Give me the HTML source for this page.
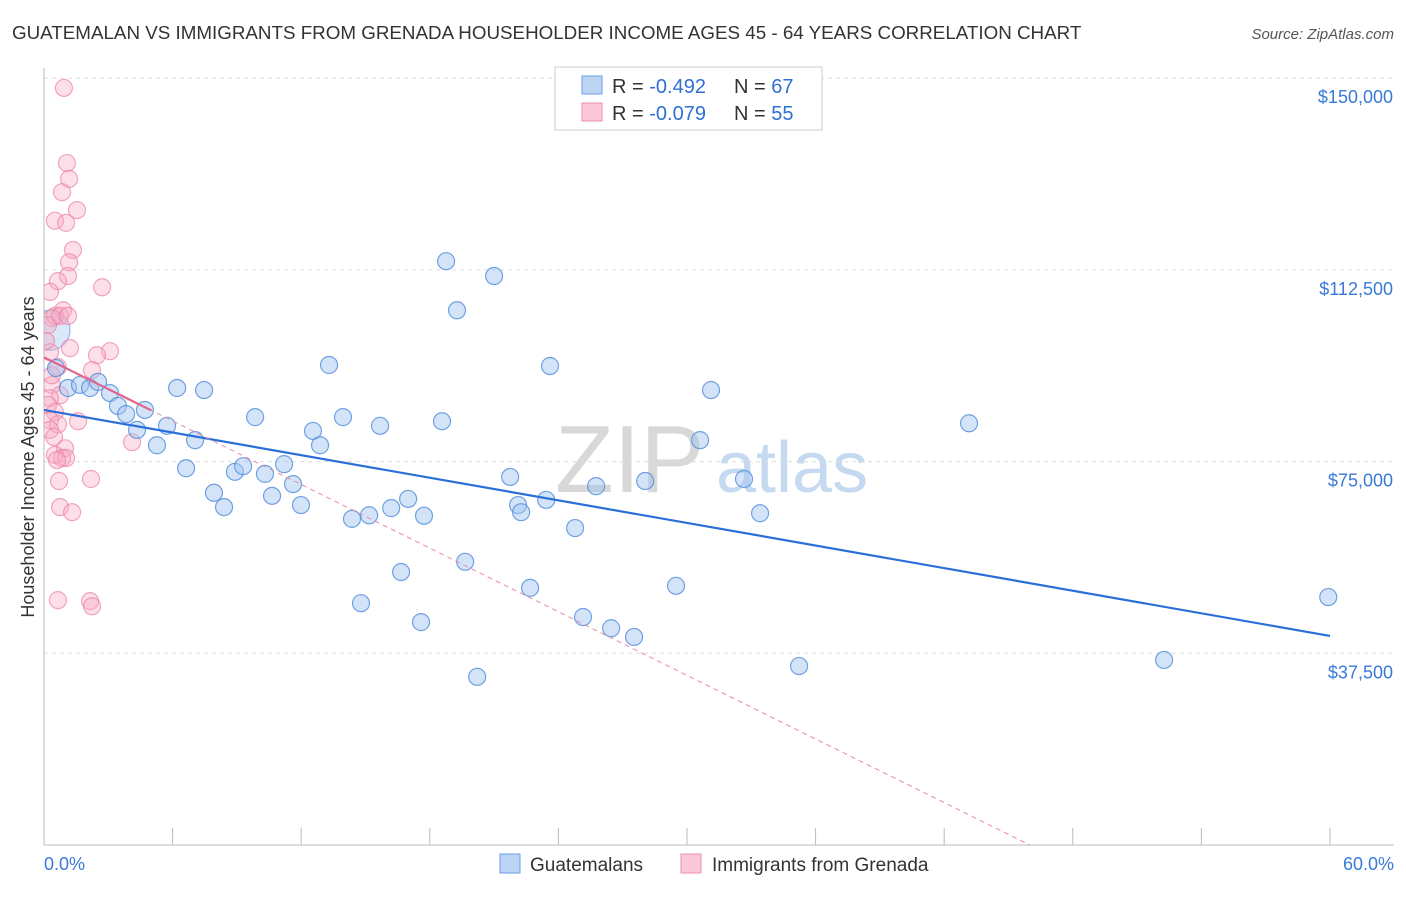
<!DOCTYPE html>
<html><head><meta charset="utf-8">
<style>
body{margin:0;background:#fff;font-family:"Liberation Sans",sans-serif;}
svg text{font-family:"Liberation Sans",sans-serif;}
</style></head>
<body>
<svg id="chart" width="1406" height="892" viewBox="0 0 1406 892">
<text x="12" y="39" font-size="18.8" fill="#333">GUATEMALAN VS IMMIGRANTS FROM GRENADA HOUSEHOLDER INCOME AGES 45 - 64 YEARS CORRELATION CHART</text>
<text x="1394" y="39" font-size="15" fill="#555" font-style="italic" text-anchor="end">Source: ZipAtlas.com</text>
<g>
<text x="555" y="492" font-size="96" fill="#d8d8d8" font-family="Liberation Serif">ZIP</text>
<text x="716" y="492" font-size="72" fill="#c5d9f0">atlas</text>
</g>
<g id="grid"></g>
<g id="axes"></g>
<g id="marks"></g>
<text transform="translate(34,457) rotate(-90)" font-size="18" fill="#333" text-anchor="middle">Householder Income Ages 45 - 64 years</text>
<g>
<rect x="555" y="67" width="267" height="63" fill="#fff" stroke="#ccc"/>
<rect x="582" y="76" width="20" height="18" fill="#bcd4f4" stroke="#6a9fe0"/>
<rect x="582" y="103" width="20" height="18" fill="#fac8d6" stroke="#ec8fac"/>
<text x="612" y="93" font-size="20" fill="#333">R = <tspan fill="#2f6fd6">-0.492</tspan></text>
<text x="734" y="93" font-size="20" fill="#333">N = <tspan fill="#2f6fd6">67</tspan></text>
<text x="612" y="120" font-size="20" fill="#333">R = <tspan fill="#2f6fd6">-0.079</tspan></text>
<text x="734" y="120" font-size="20" fill="#333">N = <tspan fill="#2f6fd6">55</tspan></text>
</g>
<g>
<rect x="500" y="854" width="20" height="19" fill="#bcd4f4" stroke="#6a9fe0"/>
<text x="530" y="871" font-size="19" fill="#333">Guatemalans</text>
<rect x="681" y="854" width="20" height="19" fill="#fac8d6" stroke="#ec8fac"/>
<text x="712" y="871" font-size="19" fill="#333">Immigrants from Grenada</text>
</g>
</svg>
<script>
const xTicks=[0,6,12,18,24,30,36,42,48,54,60];
const yTicks=[37.5,75,112.5,150];
const yTickLabels=["$37,500","$75,000","$112,500","$150,000"];
const blueX=[0.56,1.12,1.68,2.15,2.52,3.08,3.45,3.83,4.34,4.71,5.27,5.74,6.21,6.63,7.05,7.47,7.93,8.40,8.91,9.29,9.85,10.31,10.64,11.20,11.62,11.99,12.55,12.88,13.30,13.95,14.37,14.79,15.17,15.68,16.20,16.66,16.99,17.59,17.73,18.57,18.76,19.27,19.65,20.21,21.0,21.75,22.12,22.26,22.68,23.43,23.61,24.78,25.15,25.76,26.46,27.53,28.05,29.49,30.61,31.12,32.66,33.41,35.23,43.16,52.26,59.92];
const blueY=[93.3,89.4,90.0,89.4,90.6,88.4,85.9,84.3,81.2,85.1,78.2,82.0,89.4,73.7,79.2,89.0,68.9,66.1,73.0,74.1,83.7,72.6,68.3,74.5,70.6,66.5,81.0,78.2,93.9,83.7,63.8,47.3,64.5,82.0,65.9,53.4,67.7,43.6,64.4,82.9,114.2,104.6,55.4,32.9,111.3,72.0,66.5,65.1,50.3,67.5,93.7,62.0,44.6,70.2,42.4,40.7,71.2,50.7,79.2,89.0,71.6,64.9,35.0,82.5,36.2,48.5];
const pinkX=[0.93,1.07,1.17,0.84,1.54,0.51,1.03,1.35,1.17,1.12,0.65,2.71,0.28,0.89,0.51,0.37,0.19,3.08,2.47,1.21,0.28,0.65,2.24,0.37,0.75,0.28,0.19,0.51,1.59,0.28,0.65,0.28,0.47,4.11,0.98,0.51,0.84,1.03,0.61,2.19,0.70,0.75,1.31,0.65,2.15,2.24,0.37,0.75,0.09,1.12];
const pinkY=[148.1,133.4,130.3,127.7,124.2,122.1,121.7,116.4,114.0,111.3,110.3,109.1,108.2,104.6,103.5,103.1,101.7,96.6,95.8,97.2,96.4,93.5,92.9,90.0,88.0,87.4,86.1,84.7,82.9,83.1,82.3,81.2,79.8,78.8,77.6,76.3,75.7,75.7,75.3,71.6,71.2,66.1,65.1,47.9,47.7,46.7,91.9,103.5,98.6,103.5];
const blueTrend=[85.1,40.9];
const pinkTrend=[95.4,46.0];
const NS="http://www.w3.org/2000/svg";
const X=v=>44+v*21.433;
const Y=v=>845-v/37.5*191.7;
function mk(tag,attrs,parent){const e=document.createElementNS(NS,tag);for(const k in attrs)e.setAttribute(k,attrs[k]);parent.appendChild(e);return e;}
const grid=document.getElementById('grid'),axes=document.getElementById('axes'),marks=document.getElementById('marks');
yTicks.forEach((t,i)=>{
 const l=mk('line',{x1:44,x2:1394,y1:Y(t),y2:Y(t),stroke:'#ddd','stroke-dasharray':'4,4'},grid);
 
 
 const tx=mk('text',{x:1393,y:Y(t)+25,'font-size':18,fill:'#3a7ad8','text-anchor':'end'},axes);
 tx.textContent=yTickLabels[i];
 
 
});
const ax=mk('line',{x1:44,x2:44,y1:68,y2:845,stroke:'#bbb'},axes);


const bx=mk('line',{x1:44,x2:1394,y1:845,y2:845,stroke:'#bbb'},axes);


xTicks.forEach(t=>{
 const l=mk('line',{x1:X(t),x2:X(t),y1:828,y2:845,stroke:'#bbb'},axes);
 
 
});
const x0=mk('text',{x:44,y:870,'font-size':18,fill:'#3a7ad8'},axes);x0.textContent=xTicks[0].toFixed(1)+'%';


const x1=mk('text',{x:1394,y:870,'font-size':18,fill:'#3a7ad8','text-anchor':'end'},axes);x1.textContent=xTicks[xTicks.length-1].toFixed(1)+'%';


const clip=mk('clipPath',{id:'plotclip'},marks);mk('rect',{x:44,y:60,width:1360,height:785},clip);
const g=mk('g',{'clip-path':'url(#plotclip)'},marks);
const big=mk('circle',{cx:X(0.28),cy:Y(100.7),r:20,fill:'rgba(160,195,240,0.4)',stroke:'rgba(90,145,220,0.6)','stroke-width':1.2},g);


pinkX.forEach((v,i)=>{
 const c=mk('circle',{cx:X(v),cy:Y(pinkY[i]),r:8.5,fill:'rgba(246,170,195,0.38)',stroke:'rgba(236,130,165,0.7)','stroke-width':1.2},g);
 
 
});
blueX.forEach((v,i)=>{
 const c=mk('circle',{cx:X(v),cy:Y(blueY[i]),r:8.5,fill:'rgba(160,195,240,0.45)',stroke:'rgba(80,140,220,0.8)','stroke-width':1.2},g);
 
 
});
const bl=mk('line',{x1:X(0),y1:Y(blueTrend[0]),x2:X(60),y2:Y(blueTrend[1]),stroke:'#2a6fd8','stroke-width':2.2},marks);


const pf=x=>pinkTrend[0]*(1-x/pinkTrend[1]);
const pd=mk('line',{x1:X(0),y1:Y(pf(0)),x2:X(pinkTrend[1]),y2:Y(0),stroke:'#e88aa8','stroke-width':1,'stroke-dasharray':'5,4'},marks);


const ps=mk('line',{x1:X(0),y1:Y(pf(0)),x2:X(5),y2:Y(pf(5)),stroke:'#e0648c','stroke-width':2.2},marks);


</script>
</body></html>
